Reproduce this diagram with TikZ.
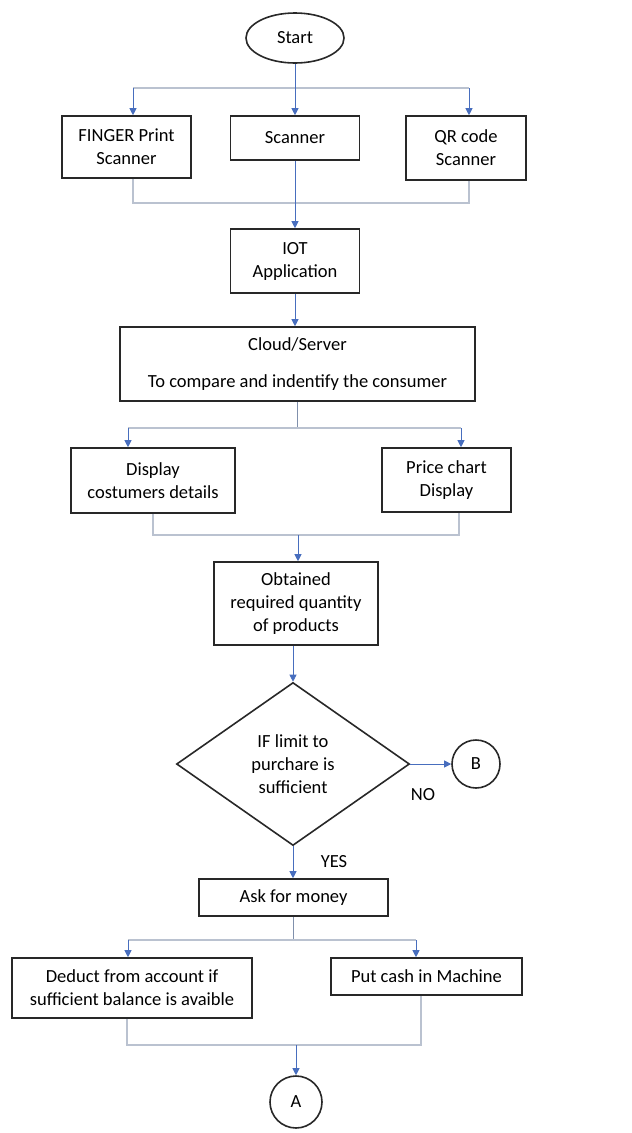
\documentclass[tikz,border=0pt]{standalone}
\usepackage{fontspec}
\setmainfont{Carlito}
\usetikzlibrary{arrows.meta,positioning,shapes.geometric,calc}
\definecolor{lnk}{RGB}{72,110,190}
\definecolor{hln}{RGB}{186,194,208}
\definecolor{vln}{RGB}{128,144,172}
\definecolor{bdr}{RGB}{40,40,40}

\begin{document}
\begin{tikzpicture}[x=1pt, y=-1pt,
    box/.style={draw=bdr, line width=1.6pt, align=center, inner sep=0pt,
                font=\fontsize{18.5}{23}\selectfont},
    arr/.style={-{Triangle[width=7pt,length=7pt]}, line width=0.8pt, lnk},
    hl/.style={line width=1.5pt, hln},
    vl/.style={line width=0.8pt, vln},
    lbl/.style={font=\fontsize{18.5}{23}\selectfont, inner sep=0pt}]

    \useasboundingbox (0,0) rectangle (632,1133);

    % start and scanners
    \node[box, ellipse, minimum width=98, minimum height=50] (start) at (295,38) {Start};
    \node[box, minimum width=129, minimum height=62] (finger) at (126.5,147) {FINGER Print\\Scanner};
    \node[box, minimum width=129, minimum height=44] (scan) at (295,138) {Scanner};
    \node[box, minimum width=120, minimum height=64] (qr) at (466,148) {QR code\\Scanner};
    \coordinate (f1) at (133,88);
    \coordinate (q1) at (469,88);
    \draw[hl] (f1) -- (q1);
    \draw[arr] (start) -- (scan);
    \draw[arr] (f1) -- (f1 |- finger.north);
    \draw[arr] (q1) -- (q1 |- qr.north);

    % iot and cloud
    \node[box, minimum width=129, minimum height=64] (iot) at (295,261) {IOT\\Application};
    \node[box, minimum width=355, minimum height=74] (cloud) at (297.5,364) {Cloud/Server\\[14pt]To compare and indentify the consumer};
    \coordinate (mg1) at (295,203);
    \draw[hl] (f1 |- finger.south) -- (f1 |- mg1) -- (q1 |- mg1) -- (q1 |- qr.south);
    \draw[arr] (scan) -- (iot);
    \draw[arr] (iot) -- (iot |- cloud.north);

    % display boxes
    \node[box, minimum width=164, minimum height=65] (disp) at (153,480.5) {Display\\costumers details};
    \node[box, minimum width=129, minimum height=64] (price) at (446.5,480) {Price chart\\Display};
    \coordinate (sp2) at (297.5,428);
    \coordinate (d1) at (128,428);
    \coordinate (d2) at (461,428);
    \draw[vl] (cloud) -- (sp2);
    \draw[hl] (d1) -- (d2);
    \draw[arr] (d1) -- (d1 |- disp.north);
    \draw[arr] (d2) -- (d2 |- price.north);

    % products and limit check
    \node[box, minimum width=164, minimum height=83] (obt) at (296,603.5) {Obtained\\required quantity\\of products};
    \node[box, diamond, minimum width=233, minimum height=163] (dec) at (293,764) {IF limit to\\purchare is\\sufficient};
    \node[box, circle, minimum size=48] (bcirc) at (476,764) {B};
    \node[lbl] (no) at (423,795) {NO};
    \node[lbl] (yes) at (334,862) {YES};
    \coordinate (mg2) at (298,535);
    \coordinate (m2r) at (459,535);
    \draw[hl] (disp) |- (m2r) -- (m2r |- price.south);
    \draw[arr] (mg2) -- (mg2 |- obt.north);
    \draw[arr] (dec.north |- obt.south) -- (dec.north);
    \draw[arr] (dec) -- (bcirc);

    % payment
    \node[box, minimum width=189, minimum height=37] (ask) at (293.5,897.5) {Ask for money};
    \node[box, minimum width=240, minimum height=60] (deduct) at (132,988) {Deduct from account if\\sufficient balance is avaible};
    \node[box, minimum width=191, minimum height=37] (cash) at (426.5,976.5) {Put cash in Machine};
    \node[box, circle, minimum size=52] (acirc) at (296,1102) {A};
    \draw[arr] (dec.south) -- (dec.south |- ask.north);
    \coordinate (sp3) at (293.5,940);
    \coordinate (e1) at (128,940);
    \coordinate (e2) at (416,940);
    \draw[vl] (ask) -- (sp3);
    \draw[hl] (e1) -- (e2);
    \draw[arr] (e1) -- (e1 |- deduct.north);
    \draw[arr] (e2) -- (e2 |- cash.north);
    \coordinate (g1) at (127,1045);
    \coordinate (g2) at (421,1045);
    \coordinate (mg3) at (296,1045);
    \draw[hl] (g1 |- deduct.south) -- (g1) -- (g2) -- (g2 |- cash.south);
    \draw[arr] (mg3) -- (acirc);
\end{tikzpicture}
\end{document}
